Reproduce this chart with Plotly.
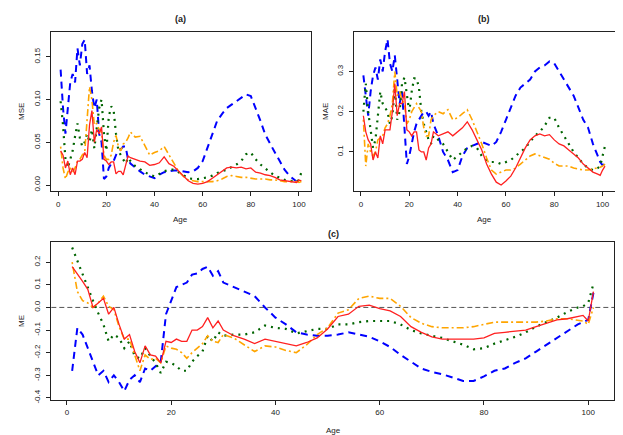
import plotly.graph_objs as go

# ages (every year to 30, then every 2 years, then 99-101)
age = list(range(1, 31)) + list(range(32, 99, 2)) + [99, 100, 101]

# panel (a): MSE
mse_blue = [.135, .09, .06, .09, .12, .13, .12, .16, .14, .165,
            .17, .13, .14, .11, .09, .10, .06, .05, .007, .01,
            .02, .025, .028, .035, .04, .042, .045, .045, .03, .025,
            .02, .016, .012, .01, .008, .012, .015, .016, .017, .017,
            .016, .015, .016, .02, .028, .043, .06, .075, .083, .09,
            .094, .098, .103, .106, .104, .09, .075, .059, .048, .038,
            .028, .018, .011, .006,
            .004, .004, .006]
mse_green = [.098, .07, .03, .02, .03, .04, .057, .072, .055, .045,
             .05, .06, .05, .065, .043, .07, .09, .10, .06, .04,
             .08, .092, .088, .06, .04, .035, .03, .025, .032, .028,
             .022, .018, .015, .012, .01, .013, .016, .018, .018, .015,
             .011, .008, .007, .007, .008, .009, .011, .014, .016, .018,
             .021, .024, .028, .036, .038, .03, .024, .019, .015, .011,
             .008, .006, .005, .004,
             .004, .006, .015]
mse_red = [.04, .035, .02, .028, .012, .02, .012, .028, .028, .03,
           .038, .032, .07, .087, .05, .065, .06, .068, .03, .028,
           .024, .027, .027, .013, .016, .016, .012, .025, .034, .032,
           .03, .028, .027, .023, .024, .026, .033, .025, .022, .016,
           .01, .005, .002, .001, .002, .004, .008, .012, .016, .02,
           .021, .02, .021, .019, .02, .015, .014, .012, .011, .009,
           .006, .005, .004, .003,
           .003, .006, .005]
mse_orange = [.045, .02, .007, .015, .02, .015, .02, .028, .03, .035,
              .038, .075, .115, .10, .07, .072, .065, .062, .035, .03,
              .03, .035, .05, .058, .045, .04, .048, .05, .055, .062,
              .056, .057, .045, .035, .038, .04, .045, .035, .025, .016,
              .01, .006, .005, .004, .004, .004, .004, .005, .007, .01,
              .011, .01, .009, .009, .008, .007, .007, .007, .006, .006,
              .005, .004, .004, .004,
              .004, .003, .004]

# panel (b): MAE
mae_blue = [.29, .24, .19, .25, .29, .31, .28, .33, .30, .35,
            .38, .32, .30, .34, .27, .22, .25, .15, .07, .09,
            .12, .15, .17, .18, .19, .20, .20, .19, .20, .17,
            .14, .10, .08, .05, .055, .09, .11, .115, .12, .125,
            .12, .115, .125, .15, .18, .21, .24, .26, .27, .28,
            .30, .31, .315, .325, .32, .30, .28, .26, .24, .21,
            .18, .16, .12, .09,
            .075, .067, .07]
mae_green = [.20, .27, .20, .15, .11, .13, .19, .25, .22, .21,
             .20, .17, .19, .26, .18, .20, .27, .285, .24, .20,
             .25, .283, .283, .26, .20, .17, .15, .13, .12, .14,
             .13, .12, .10, .08, .09, .10, .11, .115, .11, .09,
             .08, .075, .075, .07, .075, .08, .09, .10, .11, .125,
             .14, .15, .165, .185, .185, .16, .14, .12, .10, .085,
             .07, .06, .055, .06,
             .065, .09, .115]
mae_red = [.19, .15, .13, .12, .08, .10, .085, .14, .12, .155,
           .155, .155, .20, .27, .19, .22, .22, .25, .155, .15,
           .14, .15, .15, .105, .10, .10, .08, .11, .12, .15,
           .14, .145, .15, .14, .15, .16, .175, .155, .13, .105,
           .07, .045, .025, .018, .028, .04, .06, .085, .11, .13,
           .14, .145, .14, .143, .13, .12, .115, .105, .095, .085,
           .07, .06, .05, .045,
           .042, .055, .065]
mae_orange = [.18, .065, .12, .10, .09, .10, .13, .135, .14, .16,
              .17, .19, .22, .30, .24, .25, .23, .22, .17, .18,
              .20, .21, .22, .21, .20, .16, .14, .14, .18, .19,
              .20, .195, .205, .18, .185, .195, .205, .18, .15, .12,
              .085, .055, .045, .05, .055, .055, .06, .07, .08, .09,
              .095, .09, .085, .082, .072, .065, .065, .065, .06, .058,
              .055, .055, .058, .06,
              .062, .065, .07]

# panel (c): ME
me_blue = [-.28, -.09, -.12, -.18, -.24, -.30, -.28, -.33, -.30, -.33,
           -.37, -.32, -.30, -.33, -.27, -.28, -.26, -.24, -.03, .03,
           .09, .10, .11, .145, .15, .17, .18, .14, .16, .11,
           .09, .07, .05, .0, -.045, -.075, -.11, -.12, -.125, -.125,
           -.12, -.11, -.12, -.13, -.15, -.175, -.21, -.24, -.27, -.285,
           -.295, -.31, -.325, -.325, -.305, -.28, -.27, -.245, -.225, -.195,
           -.165, -.135, -.105, -.075,
           -.065, -.055, .065]
me_green = [.265, .205, .145, .085, .03, -.025, -.075, -.15, -.12, -.135,
            -.18, -.15, -.215, -.225, -.18, -.215, -.245, -.29, -.24, -.245,
            -.26, -.28, -.28, -.24, -.215, -.195, -.125, -.15, -.11, -.125,
            -.12, -.12, -.11, -.08, -.09, -.095, -.115, -.105, -.095, -.095,
            -.075, -.075, -.065, -.06, -.06, -.06, -.075, -.10, -.115, -.125,
            -.135, -.15, -.165, -.185, -.18, -.16, -.145, -.13, -.11, -.085,
            -.065, -.045, -.02, 0.0,
            .005, .02, .105]
me_red = [.18, .15, .115, .08, .0, .02, .04, -.03, .0, -.075,
          -.14, -.12, -.195, -.245, -.17, -.21, -.215, -.245, -.15, -.155,
          -.14, -.15, -.15, -.10, -.10, -.085, -.045, -.09, -.06, -.10,
          -.125, -.14, -.16, -.14, -.15, -.16, -.17, -.155, -.135, -.095,
          -.04, -.03, .005, .01, -.005, -.015, -.04, -.085, -.11, -.13,
          -.14, -.14, -.14, -.14, -.135, -.115, -.11, -.105, -.10, -.085,
          -.07, -.055, -.05, -.04,
          -.035, -.06, .07]
me_orange = [.20, .07, .03, .02, .0, .02, .05, .005, -.01, -.085,
             -.14, -.14, -.21, -.28, -.21, -.23, -.225, -.245, -.17, -.18,
             -.185, -.20, -.225, -.20, -.18, -.16, -.125, -.15, -.155, -.12,
             -.135, -.165, -.195, -.17, -.175, -.19, -.20, -.165, -.12, -.09,
             -.025, -.01, .04, .05, .04, .04, .005, -.045, -.07, -.085,
             -.09, -.09, -.09, -.085, -.075, -.065, -.065, -.065, -.065, -.065,
             -.06, -.05, -.05, -.055,
             -.06, -.075, 0.0]

x_ticks = [0, 20, 40, 60, 80, 100]
mse_ticks = [0.0, 0.05, 0.10, 0.15]
mse_tick_text = ['0.00', '0.05', '0.10', '0.15']
mae_ticks = [0.1, 0.2, 0.3]
mae_tick_text = ['0.1', '0.2', '0.3']
me_ticks = [-0.4, -0.3, -0.2, -0.1, 0.0, 0.1, 0.2]
me_tick_text = ['-0.4', '-0.3', '-0.2', '-0.1', '0.0', '0.1', '0.2']

FONT = 'Liberation Sans, Arial, sans-serif'
TXT = '#222222'

styles = [
    ('blue', dict(color='#0000ff', width=2, dash='7px,5px')),
    ('green', dict(color='#006400', width=2.2, dash='2px,5px')),
    ('orange', dict(color='#ffa500', width=1.6, dash='2px,3px,7px,3px')),
    ('red', dict(color='#ff2020', width=1.3)),
]

panels = [
    ('x', 'y', dict(blue=mse_blue, green=mse_green, red=mse_red, orange=mse_orange)),
    ('x2', 'y2', dict(blue=mae_blue, green=mae_green, red=mae_red, orange=mae_orange)),
    ('x3', 'y3', dict(blue=me_blue, green=me_green, red=me_red, orange=me_orange)),
]

traces = []
for xa, ya, series in panels:
    for key, line in styles:
        traces.append(go.Scatter(x=age, y=series[key], mode='lines', line=line,
                                 xaxis=xa, yaxis=ya, showlegend=False,
                                 hoverinfo='skip'))


def xaxis(domain, anchor):
    return dict(domain=domain, anchor=anchor, range=[-3, 105], tickvals=x_ticks,
                showline=True, mirror=True, linecolor='#222', linewidth=1,
                ticks='outside', ticklen=4, tickcolor='#222', showgrid=False,
                zeroline=False, ticklabelstandoff=1,
                tickfont=dict(family=FONT, size=8, color=TXT))


def yaxis(domain, anchor, rng, vals, text):
    return dict(domain=domain, anchor=anchor, range=rng, tickvals=vals, ticktext=text,
                tickangle=-90, showline=True, mirror=True, linecolor='#222', linewidth=1,
                ticks='outside', ticklen=4, tickcolor='#222', showgrid=False,
                zeroline=False, ticklabelstandoff=3,
                tickfont=dict(family=FONT, size=8, color=TXT))


def label(text, x, y, size=8, angle=0, bold=False):
    if bold:
        text = '<b>' + text + '</b>'
    return dict(text=text, x=x / 623, y=1 - y / 435, xref='paper', yref='paper',
                showarrow=False, textangle=angle, xanchor='center', yanchor='middle',
                font=dict(family=FONT, size=size, color=TXT))


layout = go.Layout(
    width=623, height=435,
    margin=dict(l=0, r=0, t=0, b=0, autoexpand=False),
    paper_bgcolor='white', plot_bgcolor='white',
    xaxis=xaxis([0.069, 0.4864], 'y'),
    yaxis=yaxis([0.5793, 0.9448], 'x', [-0.007, 0.179], mse_ticks, mse_tick_text),
    xaxis2=xaxis([0.5549, 0.9738], 'y2'),
    yaxis2=yaxis([0.5793, 0.9448], 'x2', [0.003, 0.398], mae_ticks, mae_tick_text),
    xaxis3=xaxis([0.0695, 0.9732], 'y3'),
    yaxis3=yaxis([0.0995, 0.4614], 'x3', [-0.408, 0.288], me_ticks, me_tick_text),
    shapes=[dict(type='line', xref='x3 domain', yref='y3', x0=0, x1=1, y0=0, y1=0,
                 line=dict(color='#555555', width=1, dash='5px,3px'), layer='below')],
    annotations=[
        label('(a)', 172, 11, size=9, bold=True),
        label('(b)', 476, 11, size=9, bold=True),
        label('(c)', 325, 226, size=9, bold=True),
        label('MSE', 13, 104, angle=-90),
        label('MAE', 317, 104, angle=-90),
        label('ME', 13, 313, angle=-90),
        label('Age', 172, 212),
        label('Age', 476, 212),
        label('Age', 325, 422),
    ],
)

fig = go.Figure(data=traces, layout=layout)
fig.write_html('out.html')
